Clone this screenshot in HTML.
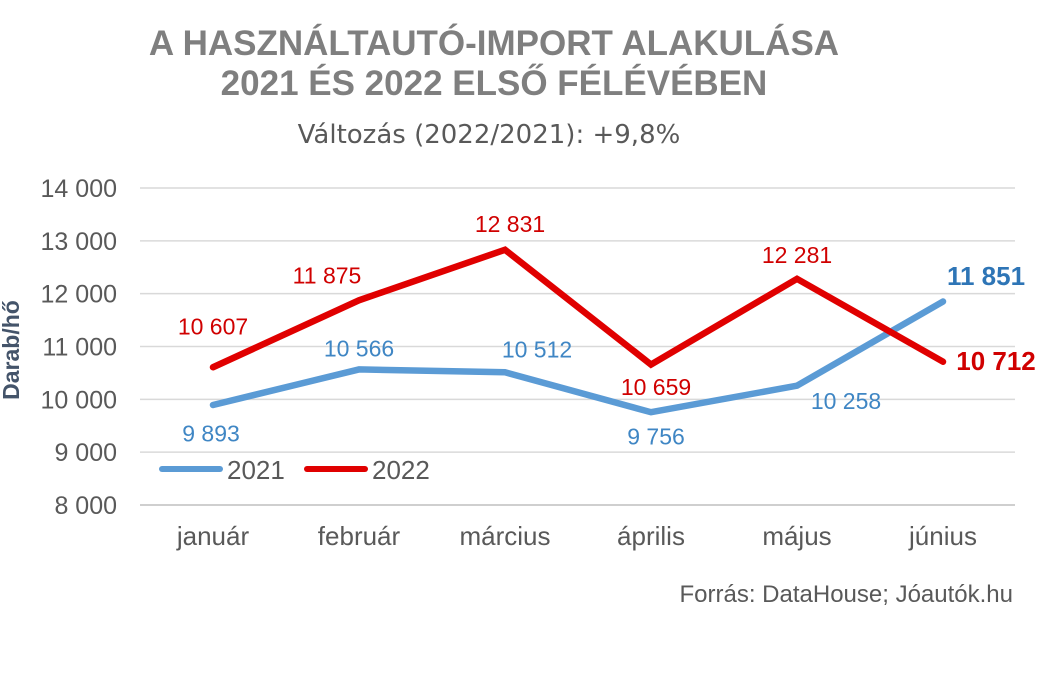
<!DOCTYPE html>
<html><head><meta charset="utf-8"><style>
html,body{margin:0;padding:0;background:#fff;}
svg{display:block;font-family:"Liberation Sans",Arial,sans-serif;}
</style></head><body>
<svg id="chart" width="1040" height="683" viewBox="0 0 1040 683">
<text x="494" y="55" text-anchor="middle" font-size="35" font-weight="bold" fill="#7f7f7f">A HASZNÁLTAUTÓ-IMPORT ALAKULÁSA</text>
<text x="494" y="95" text-anchor="middle" font-size="35" font-weight="bold" fill="#7f7f7f">2021 ÉS 2022 ELSŐ FÉLÉVÉBEN</text>
<text x="489" y="143" text-anchor="middle" font-size="26" fill="#595959" font-family="'DejaVu Sans','Liberation Sans',sans-serif">Változás (2022/2021): +9,8%</text>
<text transform="translate(19,350) rotate(-90)" text-anchor="middle" font-size="23" font-weight="bold" fill="#44546a">Darab/hő</text>
<g id="grid"></g><g id="ylabels"></g><g id="xlabels"></g><g id="series"></g><g id="labels"></g>
<g>
<line x1="162" y1="469" x2="220" y2="469" stroke="#5b9bd5" stroke-width="6" stroke-linecap="round"/>
<text x="227" y="479" font-size="26" fill="#595959">2021</text>
<line x1="307" y1="469" x2="365" y2="469" stroke="#e00000" stroke-width="6" stroke-linecap="round"/>
<text x="372" y="479" font-size="26" fill="#595959">2022</text>
</g>
<text x="1013" y="602" text-anchor="end" font-size="24" fill="#595959">Forrás: DataHouse; Jóautók.hu</text>
</svg>
<script>
const categories=["január","február","március","április","május","június"];
const values2021=[9893,10566,10512,9756,10258,11851];
const values2022=[10607,11875,12831,10659,12281,10712];
const labels2021=["9 893","10 566","10 512","9 756","10 258","11 851"];
const labels2022=["10 607","11 875","12 831","10 659","12 281","10 712"];
const yTicks=[8000,9000,10000,11000,12000,13000,14000];
const yTickLabels=["8 000","9 000","10 000","11 000","12 000","13 000","14 000"];
const NS="http://www.w3.org/2000/svg";
function y(v){return 505-(v-8000)*(317/6000);}
function x(i){return 213+i*146;}
function mk(tag,attrs,parent,text){const e=document.createElementNS(NS,tag);for(const k in attrs)e.setAttribute(k,attrs[k]);if(text!==undefined)e.textContent=text;document.getElementById(parent).appendChild(e);return e;}
yTicks.forEach((t,i)=>{
 const l=mk("line",{x1:140,x2:1015,y1:y(t),y2:y(t),stroke:i===0?"#bfbfbf":"#d9d9d9","stroke-width":1.5},"grid");
 
 
 const tx=mk("text",{x:117,y:y(t)+9,"text-anchor":"end","font-size":25,fill:"#595959"},"ylabels",yTickLabels[i]);
 
 
});
categories.forEach((c,i)=>{
 const tx=mk("text",{x:x(i),y:545,"text-anchor":"middle","font-size":26,fill:"#595959"},"xlabels",c);
 
 
});
function line(vals,color,name){
 const p=mk("polyline",{points:vals.map((v,i)=>x(i)+","+y(v)).join(" "),fill:"none",stroke:color,"stroke-width":6.5,"stroke-linejoin":"miter","stroke-linecap":"round"},"series");
 
 
}
line(values2021,"#5b9bd5","line-2021");
line(values2022,"#e00000","line-2022");
const off2021=[[-2,28],[0,-21],[32,-23],[5,24],[49,15],[43,-26]];
const off2022=[[0,-41],[-32,-25],[5,-26],[5,22],[0,-24],[53,-1]];
values2021.forEach((v,i)=>{
 const last=i===5;
 const fs=last?26:23;
 const t=mk("text",{x:x(i)+off2021[i][0],y:y(v)+off2021[i][1]+fs*0.36,"text-anchor":"middle","font-size":fs,"font-weight":last?"bold":"normal",fill:last?"#2e75b6":"#3f86c4"},"labels",labels2021[i]);
 
 
});
values2022.forEach((v,i)=>{
 const last=i===5;
 const fs=last?26:23;
 const t=mk("text",{x:x(i)+off2022[i][0],y:y(v)+off2022[i][1]+fs*0.36,"text-anchor":"middle","font-size":fs,"font-weight":last?"bold":"normal",fill:"#d00000"},"labels",labels2022[i]);
 
 
});
</script>
</body></html>
